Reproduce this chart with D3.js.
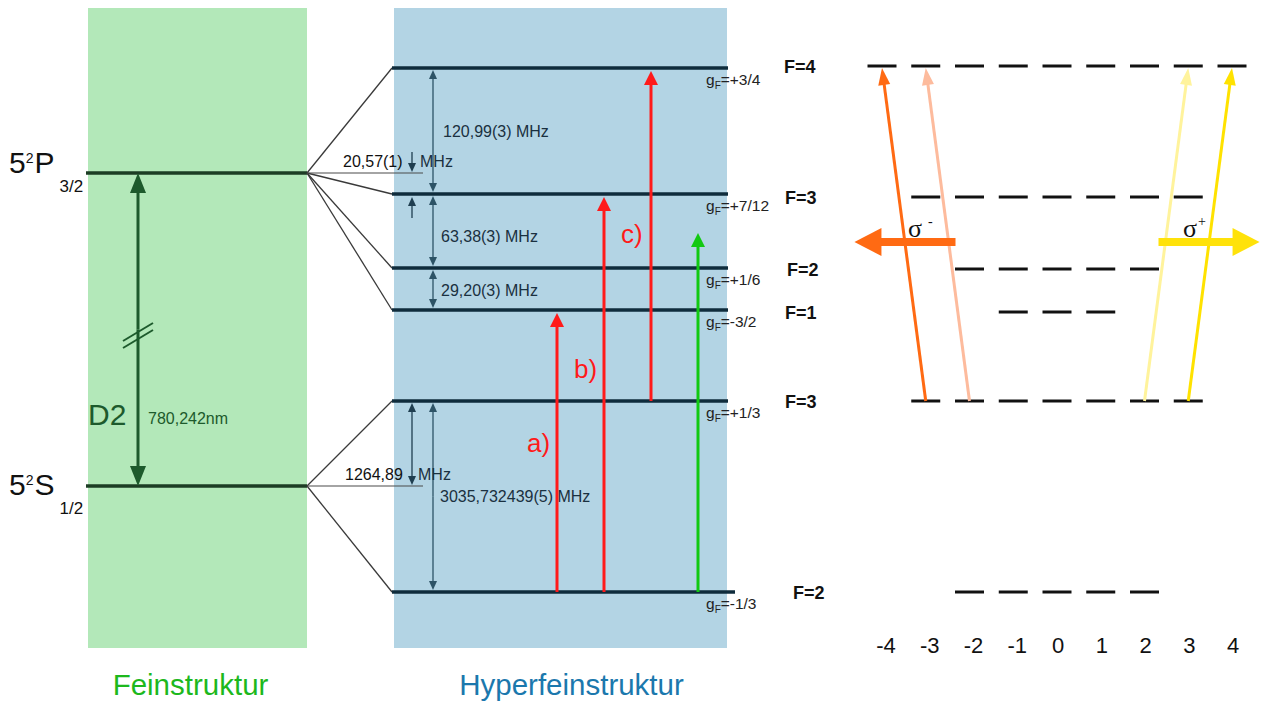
<!DOCTYPE html>
<html><head><meta charset="utf-8">
<script src="https://cdn.jsdelivr.net/npm/d3@7"></script>
<style>html,body{margin:0;padding:0;background:#fff;} svg{display:block;font-family:"Liberation Sans",Arial,sans-serif;}</style>
</head><body><svg id="c" width="1261" height="704"></svg>
<script>
// ---------- data ----------
const fineLevels = [
  {n:"5", sup:"2", term:"P", sub:"3/2", e:419},
  {n:"5", sup:"2", term:"S", sub:"1/2", e:106}
];
const hfLevels = [
  {F:4, e:524, gF:"+3/4",  fine:0},
  {F:3, e:398, gF:"+7/12", fine:0},
  {F:2, e:324, gF:"+1/6",  fine:0},
  {F:1, e:282, gF:"-3/2",  fine:0},
  {F:3, e:191, gF:"+1/3",  fine:1},
  {F:2, e:0,   gF:"-1/3",  fine:1}
];
const splitLabels = ["120,99(3) MHz", "63,38(3) MHz", "29,20(3) MHz"];
const shiftLabels = ["20,57(1)", "1264,89"];
const groundSplitLabel = "3035,732439(5) MHz";
const d2Labels = ["D2", "780,242nm"];
const transitions = [
  {label:"a)", from:0,   to:282, labelE:140, color:"#ff1a1a"},
  {label:"b)", from:0,   to:398, labelE:214, color:"#ff1a1a"},
  {label:"c)", from:191, to:524, labelE:349, color:"#ff1a1a"},
  {label:"",   from:0,   to:362, labelE:0,   color:"#12c912"}
];
const fLabels = ["F=4","F=3","F=2","F=1","F=3","F=2"];
const zeemanLevels = [
  {F:4, e:526}, {F:3, e:395}, {F:2, e:323}, {F:1, e:280}, {F:3, e:191}, {F:2, e:0}
];
const mTicks = [-4,-3,-2,-1,0,1,2,3,4];
const zeemanTransitions = [
  {mFrom:-3, mTo:-4, c:"#ff6a13"},
  {mFrom:-2, mTo:-3, c:"#fdbb9d"},
  {mFrom:2,  mTo:3,  c:"#fff39c"},
  {mFrom:3,  mTo:4,  c:"#ffe200"}
];
const sigmaArrows = [
  {sign:"-", from:-2.32, to:-4.63, c:"#ff6a13"},
  {sign:"+", from:2.32,  to:4.63,  c:"#ffe20a"}
];
const panelTitles = ["Feinstruktur", "Hyperfeinstruktur"];

// ---------- scales ----------
const y = d3.scaleLinear().domain([0, 524]).range([592, 68]);
const xm = d3.scaleLinear().domain([-4, 4]).range([882, 1232]);
const xt = d3.scalePoint().domain(d3.range(transitions.length)).range([557, 698]);
const panelX = d3.scaleOrdinal().domain(panelTitles).range([[88, 307], [394, 727]]);
const eTop = 584, eBot = -56;

const svg = d3.select("#c");

function arrow(g, x1, y1, x2, y2, o) {
  const dx = x2 - x1, dy = y2 - y1, L = Math.hypot(dx, dy), ux = dx / L, uy = dy / L;
  const bx = x2 - ux * o.hl, by = y2 - uy * o.hl;
  g.append("line").attr("x1", x1).attr("y1", y1).attr("x2", bx + ux).attr("y2", by + uy)
    .attr("stroke", o.color).attr("stroke-width", o.w);
  g.append("path").attr("d", `M${x2},${y2}L${bx - uy * o.hw},${by + ux * o.hw}L${bx + uy * o.hw},${by - ux * o.hw}Z`)
    .attr("fill", o.color);
}
function dbl(g, x, y1, y2, o) {
  const m = (y1 + y2) / 2;
  arrow(g, x, m, x, y1, o); arrow(g, x, m, x, y2, o);
}

// ---------- panels ----------
const pCol = ["#b3e8b9", "#b3d4e4"];
panelTitles.forEach((t, i) => {
  const [a, b] = panelX(t);
  svg.append("rect").attr("x", a).attr("y", y(eTop)).attr("width", b - a).attr("height", y(eBot) - y(eTop)).attr("fill", pCol[i]);
});
const tCol = ["#1db81d", "#1b78ad"];
const tShift = [-7, 11];
panelTitles.forEach((t, i) => {
  const [a, b] = panelX(t);
  svg.append("text").attr("x", (a + b) / 2 + tShift[i]).attr("y", 695).attr("text-anchor", "middle")
    .attr("font-size", 29.5).attr("fill", tCol[i]).text(t);
});

// ---------- fine structure ----------
const gF = svg.append("g");
const fx = panelX(panelTitles[0]);
fineLevels.forEach((d, i) => {
  gF.append("line").attr("x1", fx[0] - 2).attr("x2", fx[1]).attr("y1", y(d.e)).attr("y2", y(d.e))
    .attr("stroke", "#1c3d24").attr("stroke-width", 3.5);
  const base = y(d.e) + (i ? 9 : 0);
  const t = gF.append("text").attr("x", 9).attr("y", base).attr("font-size", 30).attr("fill", "#111");
  t.append("tspan").text(d.n);
  t.append("tspan").attr("font-size", 14).attr("dy", -10).text(d.sup);
  t.append("tspan").attr("dy", 10).attr("dx", 1).text(d.term);
  t.append("tspan").attr("font-size", 17).attr("dy", 19).attr("dx", 5).text(d.sub);
});
// D2 arrow
const d2c = "#1d5a2c";
dbl(gF, 138, y(fineLevels[0].e), y(fineLevels[1].e), {color: d2c, w: 3, hl: 20, hw: 8});
[0, 7].forEach(o => {
  gF.append("line").attr("x1", 123).attr("y1", 341 + o).attr("x2", 153).attr("y2", 323 + o)
    .attr("stroke", d2c).attr("stroke-width", 2);
});
gF.append("text").attr("x", 88).attr("y", 425).attr("font-size", 30).attr("fill", d2c).text(d2Labels[0]);
gF.append("text").attr("x", 148).attr("y", 424).attr("font-size", 16).attr("fill", d2c).text(d2Labels[1]);

// ---------- hyperfine structure ----------
const gH = svg.append("g");
const hx = panelX(panelTitles[1]);
hfLevels.forEach(d => {
  gH.append("line").attr("x1", fx[1]).attr("y1", y(fineLevels[d.fine].e)).attr("x2", hx[0] - 2).attr("y2", y(d.e))
    .attr("stroke", "#3a3a3a").attr("stroke-width", 1.3);
});
fineLevels.forEach(d => {
  gH.append("line").attr("x1", fx[1]).attr("x2", 423).attr("y1", y(d.e)).attr("y2", y(d.e))
    .attr("stroke", "#4a4a4a").attr("stroke-width", 1.2);
});
hfLevels.forEach((d, i) => {
  gH.append("line").attr("x1", hx[0] - 2).attr("x2", hx[1] + (i === 5 ? 8 : 1)).attr("y1", y(d.e)).attr("y2", y(d.e))
    .attr("stroke", "#0f2c3c").attr("stroke-width", 3.5);
});
const ac = {color: "#2d5366", w: 1.3, hl: 9, hw: 4};
for (let i = 0; i < 3; i++) dbl(gH, 433, y(hfLevels[i].e) + 2, y(hfLevels[i + 1].e) - 2, ac);
dbl(gH, 433, y(hfLevels[4].e) + 2, y(hfLevels[5].e) - 2, ac);
const ac2 = Object.assign({}, ac, {color: "#1f3e50"});
dbl(gH, 412, y(hfLevels[4].e) + 2, y(fineLevels[1].e) - 1, ac2);
arrow(gH, 412, y(fineLevels[0].e) - 21, 412, y(fineLevels[0].e) - 1, ac2);
arrow(gH, 412, y(hfLevels[1].e) + 24, 412, y(hfLevels[1].e) + 3, ac2);
const splitPos = [[443, 137], [441, 242], [441, 296]];
splitLabels.forEach((s, i) => gH.append("text").attr("x", splitPos[i][0]).attr("y", splitPos[i][1])
  .attr("font-size", 16).attr("fill", "#1a3040").text(s));
gH.append("text").attr("x", 343).attr("y", 167).attr("font-size", 16).attr("fill", "#111").text(shiftLabels[0]);
gH.append("text").attr("x", 420).attr("y", 167).attr("font-size", 16).attr("fill", "#1a3040").text("MHz");
gH.append("text").attr("x", 345).attr("y", 480).attr("font-size", 16).attr("fill", "#111").text(shiftLabels[1]);
gH.append("text").attr("x", 418).attr("y", 480).attr("font-size", 16).attr("fill", "#1a3040").text("MHz");
gH.append("text").attr("x", 440).attr("y", 502).attr("font-size", 16).attr("fill", "#1a3040").text(groundSplitLabel);
hfLevels.forEach(d => {
  const t = gH.append("text").attr("x", 706).attr("y", y(d.e) + 17).attr("font-size", 15.5).attr("fill", "#222");
  t.append("tspan").text("g");
  t.append("tspan").attr("font-size", 10).attr("dy", 4).text("F");
  t.append("tspan").attr("dy", -4).text("=" + d.gF);
});
transitions.forEach((d, i) => {
  arrow(gH, xt(i), y(d.from), xt(i), y(d.to) + 3, {color: d.color, w: 3, hl: 14, hw: 7});
  if (d.label) gH.append("text").attr("x", xt(i) - 30).attr("y", y(d.labelE)).attr("font-size", 26)
    .attr("fill", "#ff1a1a").text(d.label);
});

// ---------- F labels ----------
const fLx = [784, 785, 787, 785, 785, 793];
fLabels.forEach((s, i) => svg.append("text").attr("x", fLx[i]).attr("y", y(zeemanLevels[i].e) + 7)
  .attr("font-size", 18).attr("font-weight", "bold").attr("fill", "#111").text(s));

// ---------- Zeeman sublevels ----------
const gZ = svg.append("g");
zeemanLevels.forEach(d => {
  d3.range(-d.F, d.F + 1).forEach(m => {
    gZ.append("line").attr("x1", xm(m) - 14.5).attr("x2", xm(m) + 14.5).attr("y1", y(d.e)).attr("y2", y(d.e))
      .attr("stroke", "#111").attr("stroke-width", 3);
  });
});
zeemanTransitions.forEach(d => {
  arrow(gZ, xm(d.mFrom), y(zeemanLevels[4].e), xm(d.mTo), y(zeemanLevels[0].e) + 2, {color: d.c, w: 3, hl: 17, hw: 6});
});
sigmaArrows.forEach(d => {
  const yy = y(350);
  arrow(gZ, xm(d.from), yy, xm(d.to), yy, {color: d.c, w: 8, hl: 27, hw: 14});
  const xs = d.sign === "-" ? 908 : 1183;
  const t = gZ.append("text").attr("x", xs).attr("y", yy - 5).attr("font-size", 26)
    .attr("font-family", "Liberation Serif, serif").attr("fill", "#111");
  t.append("tspan").text("σ");
  t.append("tspan").attr("font-size", 14).attr("dy", -11).attr("dx", d.sign === "-" ? 6 : 1).text(d.sign);
});
mTicks.forEach(m => gZ.append("text").attr("x", xm(m) + (m < 0 ? 4 : 1)).attr("y", 653).attr("text-anchor", "middle")
  .attr("font-size", 22).attr("fill", "#111").text(m < 0 ? "-" + Math.abs(m) : m));
</script></body></html>
